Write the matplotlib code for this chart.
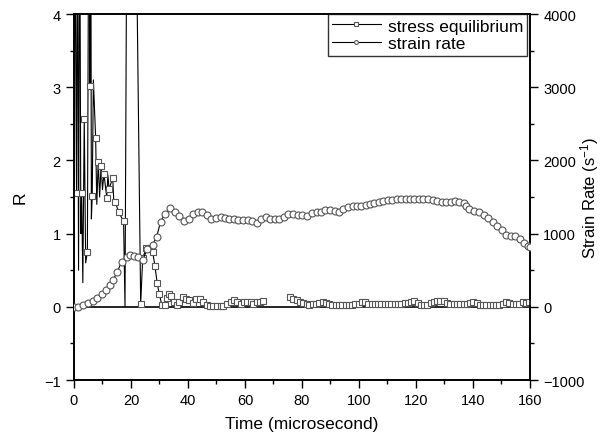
import numpy as np
import matplotlib.pyplot as plt
from matplotlib.ticker import MultipleLocator

plt.rcParams['font.family'] = ['Liberation Sans', 'DejaVu Sans']
plt.rcParams['mathtext.default'] = 'regular'

# stress equilibrium R (left axis); marked points
stress_t = [0.9, 2.7, 3.6, 4.7, 5.6, 6.4, 7.6, 8.5, 9.5, 10.5, 11.5, 12.3, 13.6, 14.5, 15.7, 17.4,
            23.4, 24.1, 25.3, 26.7, 27.6, 28.4, 29.2, 29.9, 30.8, 31.9, 32.6, 33.4, 34.2, 35.1, 36.0,
            37.0, 38.1, 39.3, 40.5, 41.6, 42.8, 44.2, 45.4, 46.6, 47.7, 48.9, 50.3, 51.5, 52.4, 53.6,
            55.0, 56.1, 57.3, 58.5, 59.6, 60.8, 62.0, 62.9, 64.1, 65.3, 66.4,
            75.8, 77.0, 78.1, 79.3, 80.5, 81.6, 82.6,
            83.8, 84.9, 86.1, 87.2, 88.4, 89.5, 90.7, 91.8, 93.0, 94.1, 95.3, 96.4, 97.6, 98.7, 99.9,
            101.0, 102.2, 103.3, 104.5, 105.6, 106.8, 107.9, 109.1, 110.2, 111.4, 112.5, 113.7, 114.8,
            116.0, 117.1, 118.3, 119.4, 120.6, 121.7, 122.9, 124.0, 125.2, 126.3, 127.5, 128.6, 129.8,
            130.9, 132.1, 133.2, 134.4, 135.5, 136.7, 137.8, 139.0, 140.1, 141.3, 142.4, 143.6, 144.7,
            145.9, 147.0, 148.2, 149.3, 150.5, 151.6, 152.8, 153.9, 155.1, 156.2, 157.4, 158.5, 159.7]
stress_r = [1.56, 1.56, 2.57, 0.75, 3.02, 1.52, 2.31, 1.98, 1.93, 1.82, 1.49, 1.61, 1.76, 1.43, 1.29, 1.17,
            0.04, 0.66, 0.80, 0.80, 0.75, 0.56, 0.32, 0.18, 0.03, 0.03, 0.12, 0.18, 0.15, 0.07, 0.03,
            0.07, 0.14, 0.11, 0.09, 0.05, 0.11, 0.11, 0.07, 0.03, 0.015, 0.015, 0.015, 0.005, 0.015, 0.045,
            0.07, 0.09, 0.07, 0.045, 0.07, 0.06, 0.07, 0.045, 0.06, 0.07, 0.08,
            0.14, 0.11, 0.09, 0.07, 0.055, 0.045, 0.03,
            0.04, 0.04, 0.05, 0.07, 0.05, 0.04, 0.03, 0.03, 0.03, 0.03, 0.03, 0.03, 0.03, 0.035, 0.04,
            0.06, 0.06, 0.04, 0.035, 0.04, 0.04, 0.04, 0.045, 0.04, 0.035, 0.04, 0.04, 0.045,
            0.05, 0.055, 0.06, 0.075, 0.05, 0.02, 0.02, 0.03, 0.05, 0.07, 0.08, 0.08, 0.075,
            0.05, 0.04, 0.04, 0.035, 0.035, 0.04, 0.04, 0.05, 0.07, 0.05, 0.03, 0.025, 0.025,
            0.025, 0.025, 0.03, 0.03, 0.04, 0.065, 0.05, 0.04, 0.035, 0.04, 0.06, 0.05, 0.06]

# unmarked points of the stress line (oscillations, off-scale spikes, data gap)
spike_t = [0.0, 0.2, 1.2, 1.6, 2.0, 2.4, 3.1, 4.1, 5.2, 5.9, 6.1, 6.8, 8.0, 9.0, 10.0, 11.9, 14.0,
           17.9, 18.6, 21.6, 70.0]
spike_r = [1.5, 6.0, 6.0, 0.5, 6.0, 1.0, 0.33, 0.6, 6.0, 6.0, 1.2, 3.1, 1.4, 1.5, 1.6, 1.8, 1.4,
           0.0, 6.0, 6.0, np.nan]

# strain rate (right axis, 1/s)
rate_t = [0.0, 1.5, 3.0, 5.0, 6.8, 8.2, 9.7, 11.2, 12.6, 13.6, 15.1, 16.7, 18.5, 19.6, 21.1, 22.6,
          24.1, 25.7, 27.6, 29.0, 30.4, 31.9, 33.8, 35.4, 36.9, 38.6, 40.5, 41.9, 43.4, 45.0, 46.5,
          48.1, 49.7, 51.5, 53.0, 54.5, 56.1, 57.7, 59.4, 60.9, 62.6, 64.1, 65.6, 67.3, 68.8, 70.5,
          72.0, 73.7, 75.2, 76.9, 78.5, 80.1, 81.7, 83.4, 85.1, 86.7, 88.1, 89.8, 91.6, 93.1, 94.5,
          96.3, 97.8, 99.2, 100.7, 102.4, 103.9, 105.4, 107.0, 108.5, 110.1, 111.7, 113.2, 114.7,
          116.4, 117.9, 119.4, 121.0, 122.6, 124.3, 125.9, 127.5, 129.0, 130.5, 132.2, 133.7, 135.2,
          136.9, 137.6, 138.7, 140.5, 142.1, 143.9, 145.4, 146.9, 148.6, 150.1, 151.6, 153.3, 154.7,
          156.5, 158.0, 159.2, 160.0]
rate_s = [0, 0, 20, 55, 86, 120, 178, 232, 300, 360, 470, 615, 683, 710, 697, 683,
          633, 792, 847, 956, 1165, 1270, 1350, 1300, 1235, 1175, 1200, 1265, 1295, 1293, 1261,
          1202, 1211, 1225, 1211, 1202, 1193, 1180, 1180, 1180, 1171, 1148, 1193, 1225, 1202, 1193,
          1202, 1225, 1270, 1270, 1248, 1248, 1239, 1280, 1293, 1293, 1316, 1325, 1307, 1302, 1335,
          1370, 1384, 1375, 1375, 1393, 1407, 1421, 1430, 1444, 1453, 1453, 1466, 1475,
          1475, 1466, 1466, 1466, 1475, 1475, 1462, 1444, 1430, 1435, 1435, 1444, 1435,
          1421, 1384, 1330, 1307, 1302, 1257, 1211, 1157, 1102, 1043, 984, 966, 966,
          929, 874, 824, 820]

# merge the marked and unmarked stress points into one line
all_t = np.array(stress_t + spike_t)
all_r = np.array(stress_r + spike_r)
marked = np.array([True] * len(stress_t) + [False] * len(spike_t))
order = np.argsort(all_t, kind='stable')
all_t, all_r, marked = all_t[order], all_r[order], marked[order]

fig = plt.figure(figsize=(6.03, 4.39), dpi=100)
ax = fig.add_axes([0.1227, 0.1321, 0.7562, 0.8337])
ax2 = ax.twinx()

ax.axhline(0, color='black', lw=1.2, zorder=1)
l1, = ax.plot(all_t, all_r, color='black', lw=0.8, marker='s', markevery=list(marked),
              ms=4.4, mfc='white', mec='#555555', mew=0.8, label='stress equilibrium', zorder=3)
l2, = ax2.plot(rate_t, rate_s, color='black', lw=0.8, marker='o', ms=5,
               mfc='white', mec='#555555', mew=0.8, label='strain rate', zorder=3)

ax.set_xlim(0, 160)
ax.set_ylim(-1, 4)
ax2.set_ylim(-1000, 4000)

ax.xaxis.set_major_locator(MultipleLocator(20))
ax.xaxis.set_minor_locator(MultipleLocator(10))
ax.yaxis.set_major_locator(MultipleLocator(1))
ax.yaxis.set_minor_locator(MultipleLocator(0.5))
ax2.yaxis.set_major_locator(MultipleLocator(1000))
ax2.yaxis.set_minor_locator(MultipleLocator(500))

for a in (ax, ax2):
    a.tick_params(which='major', direction='out', length=6, width=1.0, labelsize=10.5)
    a.tick_params(which='minor', direction='out', length=3, width=1.0)
    for sp in a.spines.values():
        sp.set_linewidth(1.2)
ax.tick_params(axis='x', top=False, which='both')

ax.set_xlabel('Time (microsecond)', fontsize=12.5, labelpad=6)
ax.set_ylabel('R', fontsize=12.5, labelpad=12)
ax2.set_ylabel('Strain Rate (s$^{-1}$)', fontsize=12)
ax2.yaxis.set_label_coords(1.105, 0.5)

leg = ax2.legend(handles=[l1, l2], loc='upper right', bbox_to_anchor=(0.994, 1.0),
                 borderaxespad=0, fontsize=12.5, frameon=True, fancybox=False,
                 handlelength=2.8, handletextpad=0.4, markerscale=0.55,
                 borderpad=0.25, labelspacing=0.15)
leg.get_frame().set_edgecolor('black')
leg.get_frame().set_linewidth(1.0)

fig.savefig('out.png', dpi=100)
